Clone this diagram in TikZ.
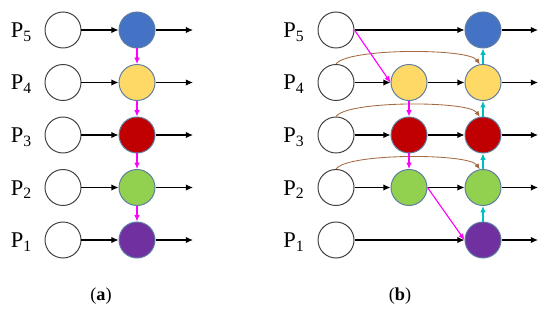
\documentclass[tikz,border=0pt]{standalone}
\usepackage{fontspec}
\setmainfont{Liberation Serif}
\usetikzlibrary{arrows.meta, positioning}
\definecolor{cblue}{RGB}{68,114,196}
\definecolor{cyellow}{RGB}{255,217,102}
\definecolor{cred}{RGB}{192,0,0}
\definecolor{cgreen}{RGB}{146,208,80}
\definecolor{cpurple}{RGB}{112,48,160}
\definecolor{crim}{RGB}{95,125,160}
\definecolor{cmagenta}{RGB}{255,0,255}
\definecolor{ccyan}{RGB}{0,190,190}
\definecolor{cbrown}{RGB}{165,105,65}

\begin{document}
\begin{tikzpicture}[x=0.025cm, y=-0.025cm, >={Latex[length=5pt,width=4.5pt]},
    blank/.style={circle, draw=black!75, line width=0.7pt, fill=white, minimum size=0.9cm, inner sep=0pt},
    filled/.style={circle, draw=crim, line width=0.7pt, fill=#1, minimum size=0.9cm, inner sep=0pt},
    plabel/.style={anchor=base, font=\fontsize{16}{19}\selectfont},
    caption/.style={font=\fontsize{13}{15}\selectfont},
    flow/.style={->, line width=0.8pt},
    down/.style={->, cmagenta, line width=0.8pt, >={Latex[length=4.5pt,width=4pt]}},
    lift/.style={->, ccyan, line width=0.8pt, >={Latex[length=4.5pt,width=4pt]}},
    jump/.style={->, cbrown, line width=0.6pt, >={Latex[length=4pt,width=3.5pt]}}]
  \useasboundingbox (0,0) rectangle (550,314);

  % panel (a)
  \foreach \i/\col in {1/cpurple, 2/cgreen, 3/cred, 4/cyellow, 5/cblue} {
    \pgfmathsetmacro\ry{240-52.5*(\i-1)}
    \node[plabel] (pa\i) at (21.5, \ry+7.5) {P\textsubscript{\i}};
    \node[blank] (wa\i) at (63, \ry) {};
    \node[filled=\col] (ca\i) at (137, \ry) {};
    \coordinate (oa\i) at (193, \ry);
    \draw[flow] (wa\i) -- (ca\i);
    \draw[flow] (ca\i) -- (oa\i);
  }
  \foreach \i/\j in {5/4, 4/3, 3/2, 2/1}
    \draw[down] (ca\i) -- (ca\j);
  \node[caption] (capa) at (101, 296) {(\textbf{a})};

  % panel (b)
  \foreach \i/\col in {1/cpurple, 2/cgreen, 3/cred, 4/cyellow, 5/cblue} {
    \pgfmathsetmacro\ry{240-52.5*(\i-1)}
    \node[plabel] (pb\i) at (294, \ry+7.5) {P\textsubscript{\i}};
    \node[blank] (wb\i) at (336, \ry) {};
    \node[filled=\col] (rb\i) at (483, \ry) {};
    \coordinate (ob\i) at (538, \ry);
    \draw[flow] (rb\i) -- (ob\i);
  }
  % middle column
  \foreach \i/\col in {2/cgreen, 3/cred, 4/cyellow} {
    \pgfmathsetmacro\ry{240-52.5*(\i-1)}
    \node[filled=\col] (mb\i) at (409, \ry) {};
    \draw[flow] (wb\i) -- (mb\i);
    \draw[flow] (mb\i) -- (rb\i);
    \draw[jump] (wb\i.north) to[out=55, in=125, looseness=0.35] (rb\i.100);
  }
  \draw[flow] (wb5) -- (rb5);
  \draw[flow] (wb1) -- (rb1);

  % magenta links
  \draw[down] (wb5.east) -- (mb4.west);
  \draw[down] (mb4) -- (mb3);
  \draw[down] (mb3) -- (mb2);
  \draw[down] (mb2.east) -- (rb1.west);

  % cyan links
  \foreach \i/\j in {1/2, 2/3, 3/4, 4/5}
    \draw[lift] (rb\i) -- (rb\j);
  \node[caption] (capb) at (400, 296) {(\textbf{b})};
\end{tikzpicture}
\end{document}
